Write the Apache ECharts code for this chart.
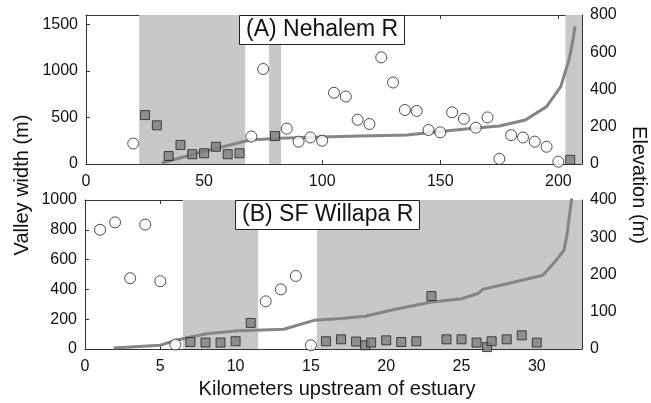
<!DOCTYPE html>
<html>
<head>
<meta charset="utf-8">
<script src="https://cdn.jsdelivr.net/npm/echarts@6/dist/echarts.min.js"></script>
<style>
html,body{margin:0;padding:0;background:#fff;}
#c{width:651px;height:403px;}
</style>
</head>
<body>
<div id="c"></div>
<script>
// ---- Data ----
// Panel A: Nehalem R
var nehalemCircleKm    = [20, 70, 75, 85, 90, 95, 100, 105, 110, 115, 120, 125, 130, 135, 140, 145, 150, 155, 160, 165, 170, 175, 180, 185, 190, 195, 200];
var nehalemCircleWidth = [220, 295, 1020, 380, 240, 285, 250, 765, 725, 475, 430, 1145, 875, 580, 570, 365, 340, 555, 485, 390, 500, 55, 310, 285, 240, 185, 25];
var nehalemSquareKm    = [25, 30, 35, 40, 45, 50, 55, 60, 65, 80, 205];
var nehalemSquareWidth = [525, 415, 85, 205, 105, 115, 185, 105, 115, 300, 45];
var nehalemElevKm      = [32, 50, 69.5, 82, 100, 116, 136, 150, 164, 175, 186, 195, 201, 204.5, 206.2, 207];
var nehalemElevM       = [5, 68, 129, 138, 145, 150, 156, 174, 192, 204, 236, 308, 416, 559, 667, 740];
var nehalemShade       = [[22.5, 67.4], [77.5, 82.6], [203, 210]];

// Panel B: SF Willapa R
var willapaCircleKm    = [1, 2, 3, 4, 5, 6, 12, 13, 14, 15];
var willapaCircleWidth = [800, 850, 475, 835, 455, 30, 320, 400, 490, 25];
var willapaSquareKm    = [7, 8, 9, 10, 11, 16, 17, 18, 18.6, 19, 20, 21, 22, 23, 24, 25, 26, 26.7, 27, 28, 29, 30];
var willapaSquareWidth = [47, 43, 43, 52, 175, 52, 65, 50, 25, 43, 58, 47, 52, 355, 65, 65, 43, 13, 52, 65, 92, 43];
var willapaElevKm      = [1.9, 5, 6, 7, 8.1, 9.9, 13.2, 15.2, 17, 18.6, 20.3, 23, 25, 26.1, 26.4, 28.1, 30.4, 31.2, 31.8, 32, 32.2, 32.3, 32.4];
var willapaElevM       = [3, 10, 23, 32, 41, 48, 53, 77, 82, 88, 104, 126, 135, 149, 160, 176, 198, 234, 265, 306, 368, 400, 430];
var willapaShade       = [[6.5, 11.5], [15.4, 33]];

// Tick labels
var nehalemKmTicks    = [0, 50, 100, 150, 200];
var nehalemWidthTicks = [0, 500, 1000, 1500];
var nehalemElevTicks  = [0, 200, 400, 600, 800];
var willapaKmTicks    = [0, 5, 10, 15, 20, 25, 30];
var willapaWidthTicks = [0, 200, 400, 600, 800, 1000];
var willapaElevTicks  = [0, 100, 200, 300, 400];

var titleA = '(A) Nehalem R';
var titleB = '(B) SF Willapa R';
var yLeftName = 'Valley width (m)';
var yRightName = 'Elevation (m)';
var xName = 'Kilometers upstream of estuary';

// ---- Helpers ----
var FONT = 'Liberation Sans, Arial, sans-serif';
var AX = '#333';
function zip(a, b) { return a.map(function (v, i) { return [v, b[i]]; }); }
function only(list) {
  return function (v) { return list.indexOf(v) >= 0 ? String(v) : ''; };
}
function valAxis(o) {
  var base = {
    type: 'value',
    axisLine: { show: true, onZero: false, lineStyle: { color: AX, width: 1 } },
    axisTick: { show: true, inside: true, length: 4, lineStyle: { color: AX } },
    splitLine: { show: false },
    axisLabel: { color: '#111', fontSize: 16, fontFamily: FONT, margin: 8 }
  };
  for (var k in o) {
    if (typeof o[k] === 'object' && base[k] && !Array.isArray(o[k])) {
      for (var j in o[k]) base[k][j] = o[k][j];
    } else base[k] = o[k];
  }
  return base;
}
function shadeData(list) {
  return list.map(function (r) { return [{ xAxis: r[0] }, { xAxis: r[1] }]; });
}

var circleStyle = { color: '#ffffff', borderColor: '#222', borderWidth: 1 };
var squareStyle = { color: '#7f7f7f', borderColor: '#222', borderWidth: 1 };
var lineStyle = { color: '#858585', width: 3 };

var chart = echarts.init(document.getElementById('c'), null, { renderer: 'canvas' });
chart.setOption({
  backgroundColor: '#fff',
  animation: false,
  title: [
    { text: titleA, left: 239, top: 15, padding: [2, 7, 2, 7], backgroundColor: '#fff', borderColor: '#222', borderWidth: 1,
      textStyle: { fontSize: 23, fontWeight: 'normal', color: '#111', fontFamily: FONT, lineHeight: 26 }, z: 10 },
    { text: titleB, left: 235, top: 200, padding: [2, 7, 2, 7], backgroundColor: '#fff', borderColor: '#222', borderWidth: 1,
      textStyle: { fontSize: 23, fontWeight: 'normal', color: '#111', fontFamily: FONT, lineHeight: 26 }, z: 10 }
  ],
  grid: [
    { left: 86, top: 15, width: 496, height: 149 },
    { left: 85, top: 200, width: 497, height: 149 }
  ],
  xAxis: [
    valAxis({ gridIndex: 0, position: 'bottom', min: 0, max: 210, interval: 50, axisLabel: { formatter: only(nehalemKmTicks), margin: 10 } }),
    valAxis({ gridIndex: 0, position: 'top', min: 0, max: 210, interval: 50, axisLabel: { show: false } }),
    valAxis({ gridIndex: 1, position: 'bottom', min: 0, max: 33, interval: 5, axisLabel: { formatter: only(willapaKmTicks), margin: 10 } }),
    valAxis({ gridIndex: 1, position: 'top', min: 0, max: 33, interval: 5, axisLabel: { show: false } })
  ],
  yAxis: [
    valAxis({ gridIndex: 0, position: 'left', min: 0, max: 1600, interval: 500, axisLabel: { formatter: only(nehalemWidthTicks) } }),
    valAxis({ gridIndex: 0, position: 'right', min: 0, max: 800, interval: 200, axisLabel: { formatter: only(nehalemElevTicks) } }),
    valAxis({ gridIndex: 1, position: 'left', min: 0, max: 1000, interval: 200, axisLabel: { formatter: only(willapaWidthTicks) } }),
    valAxis({ gridIndex: 1, position: 'right', min: 0, max: 400, interval: 100, axisLabel: { formatter: only(willapaElevTicks) } })
  ],
  graphic: [
    { type: 'text', x: 22, y: 185, rotation: Math.PI / 2,
      style: { text: yLeftName, fontSize: 20, fontFamily: FONT, fill: '#111', textAlign: 'center', textVerticalAlign: 'middle' } },
    { type: 'text', x: 639, y: 185, rotation: -Math.PI / 2,
      style: { text: yRightName, fontSize: 20, fontFamily: FONT, fill: '#111', textAlign: 'center', textVerticalAlign: 'middle' } },
    { type: 'text', x: 337, y: 389,
      style: { text: xName, fontSize: 20, fontFamily: FONT, fill: '#111', textAlign: 'center', textVerticalAlign: 'middle' } }
  ],
  series: [
    // shaded bands
    { type: 'line', xAxisIndex: 0, yAxisIndex: 0, data: [], z: 1, silent: true,
      markArea: { silent: true, itemStyle: { color: '#c8c8c8', opacity: 1 }, data: shadeData(nehalemShade) } },
    { type: 'line', xAxisIndex: 2, yAxisIndex: 2, data: [], z: 1, silent: true,
      markArea: { silent: true, itemStyle: { color: '#c8c8c8', opacity: 1 }, data: shadeData(willapaShade) } },
    // elevation profiles
    { type: 'line', xAxisIndex: 0, yAxisIndex: 1, data: zip(nehalemElevKm, nehalemElevM), showSymbol: false, symbol: 'none',
      lineStyle: lineStyle, z: 3, clip: true },
    { type: 'line', xAxisIndex: 2, yAxisIndex: 3, data: zip(willapaElevKm, willapaElevM), showSymbol: false, symbol: 'none',
      lineStyle: lineStyle, z: 3, clip: true },
    // valley widths
    { type: 'scatter', xAxisIndex: 0, yAxisIndex: 0, data: zip(nehalemSquareKm, nehalemSquareWidth), symbol: 'rect', symbolSize: 9,
      itemStyle: squareStyle, z: 4 },
    { type: 'scatter', xAxisIndex: 0, yAxisIndex: 0, data: zip(nehalemCircleKm, nehalemCircleWidth), symbol: 'circle', symbolSize: 11,
      itemStyle: circleStyle, z: 4 },
    { type: 'scatter', xAxisIndex: 2, yAxisIndex: 2, data: zip(willapaSquareKm, willapaSquareWidth), symbol: 'rect', symbolSize: 9,
      itemStyle: squareStyle, z: 4 },
    { type: 'scatter', xAxisIndex: 2, yAxisIndex: 2, data: zip(willapaCircleKm, willapaCircleWidth), symbol: 'circle', symbolSize: 11,
      itemStyle: circleStyle, z: 4 }
  ]
});
</script>
</body>
</html>
